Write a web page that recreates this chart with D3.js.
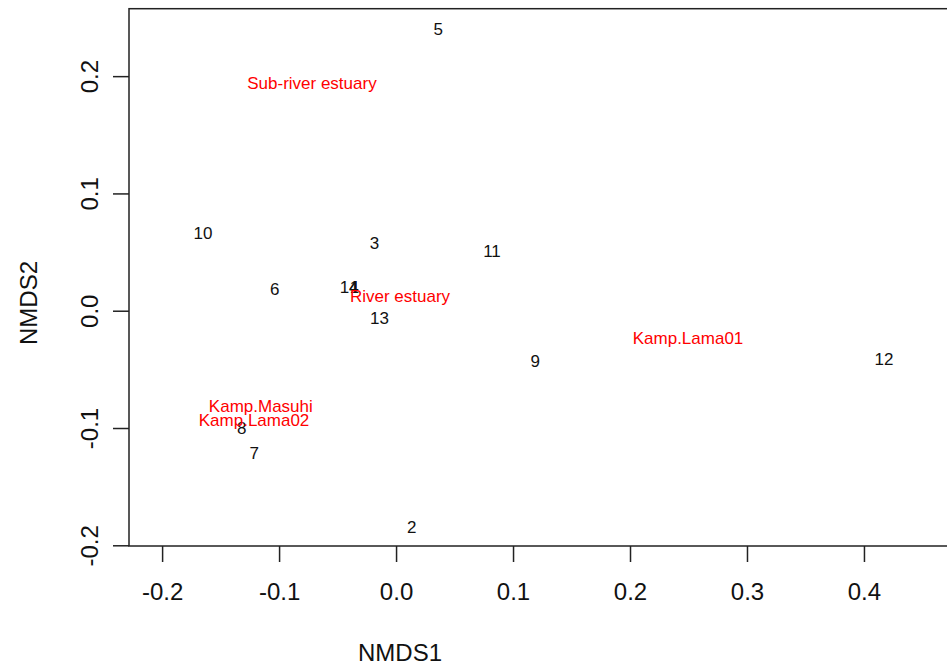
<!DOCTYPE html>
<html>
<head>
<meta charset="utf-8">
<script src="https://cdn.jsdelivr.net/npm/d3@7"></script>
<style>
  body { margin: 0; background: #fff; }
  svg { display: block; font-family: "Liberation Sans", Arial, sans-serif; }
</style>
</head>
<body>
<div id="chart"></div>
<script>
// site scores (NMDS1, NMDS2)
const siteLabels = ['1', '2', '3', '4', '5', '6', '7', '8', '9', '10', '11', '12', '13', '14'];
const siteX = [-0.0355, 0.0134, -0.0185, -0.0362, 0.0360, -0.1037, -0.1212, -0.1320, 0.1190, -0.1650, 0.0820, 0.4171, -0.0142, -0.0400];
const siteY = [0.0200, -0.1841, 0.0575, 0.0202, 0.2399, 0.0188, -0.1216, -0.0997, -0.0426, 0.0665, 0.0512, -0.0412, -0.0065, 0.0199];

// group centroids
const groupLabels = ['Sub-river estuary', 'River estuary', 'Kamp.Lama01', 'Kamp.Masuhi', 'Kamp.Lama02'];
const groupX = [-0.0719, 0.0034, 0.2496, -0.1156, -0.1214];
const groupY = [0.1944, 0.0125, -0.0230, -0.0810, -0.0932];

const xTicks = [-0.2, -0.1, 0.0, 0.1, 0.2, 0.3, 0.4];
const yTicks = [-0.2, -0.1, 0.0, 0.1, 0.2];

const svgWidth = 947;
const svgHeight = 666;

const plot = { left: 129, top: 8.7, right: 960, bottom: 546 };

const svg = d3.select('#chart')
    .append('svg')
    .attr('width', svgWidth)
    .attr('height', svgHeight);

const xScale = d3.scaleLinear()
    .domain([-0.2283, 0.4821])
    .range([plot.left, plot.right]);

const yScale = d3.scaleLinear()
    .domain([-0.2006, 0.2575])
    .range([plot.bottom, plot.top]);

// box
svg.append('rect')
    .attr('x', plot.left)
    .attr('y', plot.top)
    .attr('width', plot.right - plot.left)
    .attr('height', plot.bottom - plot.top)
    .attr('fill', 'none')
    .attr('stroke', '#222')
    .attr('stroke-width', 1.5);

// R style labels, plain hyphen for the minus
const fmt = d => d3.format('.1f')(d).replace('\u2212', '-');

const xAxisGroup = svg.append('g')
    .attr('transform', `translate(0, ${plot.bottom})`)
    .call(d3.axisBottom(xScale)
        .tickValues(xTicks)
        .tickSize(16)
        .tickPadding(21)
        .tickFormat(fmt));

const yAxisGroup = svg.append('g')
    .attr('transform', `translate(${plot.left}, 0)`)
    .call(d3.axisLeft(yScale)
        .tickValues(yTicks)
        .tickSize(16)
        .tickFormat(fmt));

[xAxisGroup, yAxisGroup].forEach(g => {
    g.select('.domain').remove();
    g.selectAll('.tick line').attr('stroke', '#222').attr('stroke-width', 1.5);
    g.selectAll('.tick text')
        .attr('fill', '#111')
        .style('font-size', '24px')
        .style('font-family', '"Liberation Sans", Arial, sans-serif');
});

yAxisGroup.selectAll('.tick text')
    .attr('transform', 'rotate(-90)')
    .attr('x', 0)
    .attr('y', -31)
    .attr('dy', 0)
    .attr('text-anchor', 'middle');

// axis titles
svg.append('text')
    .attr('x', 400)
    .attr('y', 661)
    .attr('text-anchor', 'middle')
    .attr('font-size', 24)
    .attr('fill', '#111')
    .text('NMDS1');

svg.append('text')
    .attr('transform', `translate(37, 303) rotate(-90)`)
    .attr('text-anchor', 'middle')
    .attr('font-size', 24)
    .attr('fill', '#111')
    .text('NMDS2');

// site labels
svg.append('g')
    .selectAll('text')
    .data(siteLabels)
    .join('text')
    .attr('x', (d, i) => xScale(siteX[i]))
    .attr('y', (d, i) => yScale(siteY[i]))
    .attr('dy', '0.36em')
    .attr('text-anchor', 'middle')
    .attr('font-size', 17)
    .attr('fill', '#111')
    .text(d => d);

// group labels
svg.append('g')
    .selectAll('text')
    .data(groupLabels)
    .join('text')
    .attr('x', (d, i) => xScale(groupX[i]))
    .attr('y', (d, i) => yScale(groupY[i]))
    .attr('dy', '0.36em')
    .attr('text-anchor', 'middle')
    .attr('font-size', 17)
    .attr('fill', '#ff0000')
    .text(d => d);
</script>
</body>
</html>
